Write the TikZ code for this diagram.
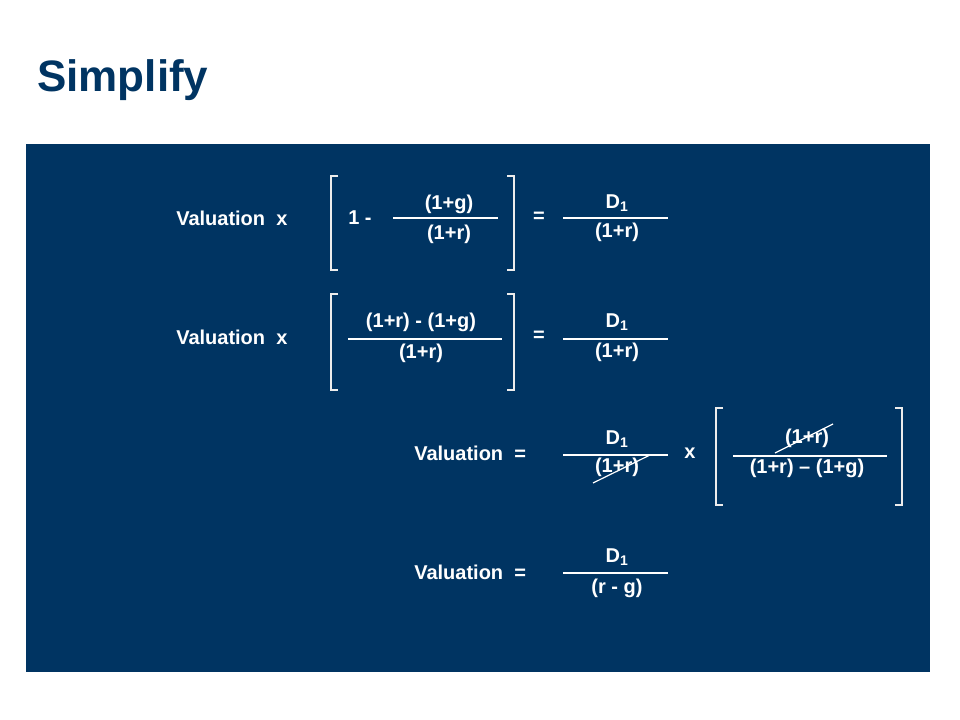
\documentclass[tikz,border=0pt]{standalone}
\usepackage{fontspec}
\setmainfont{Liberation Sans}
\definecolor{navy}{HTML}{003462}
\begin{document}
\begin{tikzpicture}[x=0.75pt,y=-0.75pt,
  t/.style={text=white,font=\bfseries\fontsize{15}{18}\selectfont,inner sep=0pt,anchor=center},
  fr/.style={draw=white,line width=0.9pt},
  br/.style={draw=white!85!gray,line width=2pt}]
\useasboundingbox (0,0) rectangle (960,720);
\fill[navy] (26,144) rectangle (930,672);
\node[text=navy,font=\bfseries\fontsize{33}{36}\selectfont,anchor=west,inner sep=0pt] (title) at (37,80) {Simplify};
% row 1
\node[t,anchor=west] (v1) at (176,218) {Valuation\ \ x};
\draw[br] (338,176)--(331,176)--(331,270)--(338,270);
\draw[br] (507,176)--(514,176)--(514,270)--(507,270);
\node[t,anchor=west] (o1) at (348,218) {1 -};
\node[t] (g1) at (449,204) {(1+g)};
\draw[fr] (393,218)--(498,218);
\node[t] (r1) at (449,234) {(1+r)};
\node[t] (e1) at (539,217) {=};
\node[t] (d1) at (617,203) {D\textsubscript{1}};
\draw[fr] (563,218)--(668,218);
\node[t] (q1) at (617,232) {(1+r)};
% row 2
\node[t,anchor=west] (v2) at (176,337) {Valuation\ \ x};
\draw[br] (338,294)--(331,294)--(331,390)--(338,390);
\draw[br] (507,294)--(514,294)--(514,390)--(507,390);
\node[t] (n2) at (421,322) {(1+r) - (1+g)};
\draw[fr] (348,339)--(502,339);
\node[t] (r2) at (421,353) {(1+r)};
\node[t] (e2) at (539,336) {=};
\node[t] (d2) at (617,322) {D\textsubscript{1}};
\draw[fr] (563,339)--(668,339);
\node[t] (q2) at (617,352) {(1+r)};
% row 3
\node[t,anchor=west] (v3) at (414,453) {Valuation\ \ =};
\node[t] (d3) at (617,439) {D\textsubscript{1}};
\draw[fr] (563,455)--(668,455);
\node[t] (q3) at (617,467) {(1+r)};
\draw[fr] (593,483)--(650,455);
\node[t] (x3) at (690,453) {x};
\draw[br] (723,408)--(716,408)--(716,505)--(723,505);
\draw[br] (895,408)--(902,408)--(902,505)--(895,505);
\node[t] (n3) at (807,438) {(1+r)};
\draw[fr] (733,456)--(887,456);
\node[t] (m3) at (807,468) {(1+r) – (1+g)};
\draw[fr] (775,453)--(833,424);
% row 4
\node[t,anchor=west] (v4) at (414,572) {Valuation\ \ =};
\node[t] (d4) at (617,557) {D\textsubscript{1}};
\draw[fr] (563,573)--(668,573);
\node[t] (q4) at (617,588) {(r - g)};
\end{tikzpicture}
\end{document}
